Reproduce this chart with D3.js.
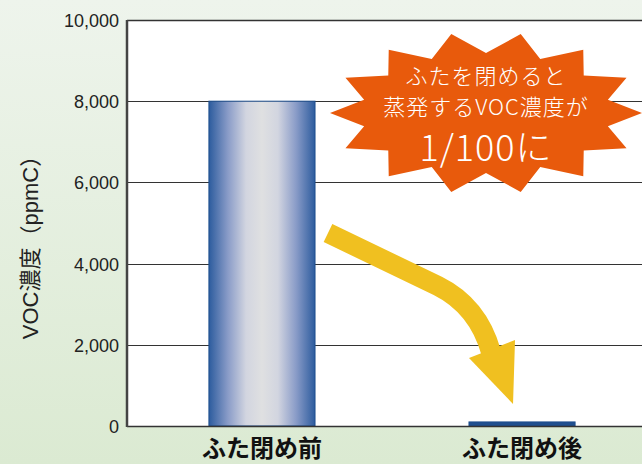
<!DOCTYPE html>
<html lang="ja">
<head>
<meta charset="utf-8">
<title>VOC</title>
<script src="https://d3js.org/d3.v7.min.js"></script>
<style>
  body { margin: 0; }
  .tick-label { font-family: "Liberation Sans", Arial, sans-serif; font-size: 18px; fill: #222; }
  .cat-label { font-family: "Noto Sans CJK JP", sans-serif; font-size: 24px; font-weight: bold; fill: #111; }
  .y-title { font-family: "Liberation Sans", "Noto Sans CJK JP", sans-serif; font-size: 22px; fill: #222; }
  .burst-text { font-family: "Noto Sans CJK JP", sans-serif; fill: #fff; font-weight: 300; }
</style>
</head>
<body>
<div id="chart"></div>
<script>
var width = 642, height = 464;

var categories = ["ふた閉め前", "ふた閉め後"];
var values = [8000, 100];
var tickValues = [0, 2000, 4000, 6000, 8000, 10000];
var yTitle = "VOC濃度（ppmC）";
var calloutLines = ["ふたを閉めると", "蒸発するVOC濃度が", "1/100に"];

var plotLeft = 127, plotTop = 20, plotBottom = 426, plotRight = 657;

var svg = d3.select("#chart").append("svg")
  .attr("width", width)
  .attr("height", height);

var defs = svg.append("defs");
var bg = defs.append("linearGradient").attr("id", "bg")
  .attr("x1", 0).attr("y1", 0).attr("x2", 0).attr("y2", 1);
bg.append("stop").attr("offset", "0%").attr("stop-color", "#eef4ec");
bg.append("stop").attr("offset", "100%").attr("stop-color", "#dbead2");

var barGrad = defs.append("linearGradient").attr("id", "barGrad")
  .attr("x1", 0).attr("y1", 0).attr("x2", 1).attr("y2", 0);
[["0%", "#2d5c9e"], ["18%", "#8a9cc8"], ["35%", "#d2d5e0"], ["50%", "#dfe0e1"],
 ["65%", "#d2d5e0"], ["82%", "#8a9cc8"], ["100%", "#2d5c9e"]].forEach(function(s) {
  barGrad.append("stop").attr("offset", s[0]).attr("stop-color", s[1]);
});

var y = d3.scaleLinear().domain([0, 10000]).range([plotBottom, plotTop]);
var x = d3.scaleBand().domain(categories).range([plotLeft, plotRight])
  .paddingInner(0.592).paddingOuter(0.315);

svg.append("rect").attr("width", width).attr("height", height).attr("fill", "url(#bg)");

svg.append("rect")
  .attr("x", plotLeft).attr("y", plotTop)
  .attr("width", width - plotLeft).attr("height", plotBottom - plotTop)
  .attr("fill", "#fff");

// grid lines
svg.selectAll("line.grid")
  .data(tickValues.slice(1))
  .enter().append("line")
  .attr("class", "grid")
  .attr("x1", plotLeft).attr("x2", width)
  .attr("y1", function(d) { return Math.round(y(d)) + 0.5; })
  .attr("y2", function(d) { return Math.round(y(d)) + 0.5; })
  .attr("stroke", "#333")
  .attr("stroke-width", function(d) { return d === 10000 ? 1.5 : 1; });

// bars
svg.selectAll("rect.bar")
  .data(values)
  .enter().append("rect")
  .attr("class", "bar")
  .attr("x", function(d, i) { return x(categories[i]); })
  .attr("y", function(d) { return y(d); })
  .attr("width", x.bandwidth())
  .attr("height", function(d) { return plotBottom - y(d); })
  .attr("fill", function(d, i) { return i === 0 ? "url(#barGrad)" : "#1f4f8f"; })
  .attr("stroke", "#1e4f8e")
  .attr("stroke-width", 1);

// axis lines
svg.append("line")
  .attr("x1", plotLeft).attr("x2", width)
  .attr("y1", plotBottom + 0.5).attr("y2", plotBottom + 0.5)
  .attr("stroke", "#333").attr("stroke-width", 1.5);
svg.append("line")
  .attr("x1", plotLeft).attr("x2", plotLeft)
  .attr("y1", plotTop).attr("y2", plotBottom + 1)
  .attr("stroke", "#444").attr("stroke-width", 2.5);

// y axis labels
var yAxis = d3.axisLeft(y).tickValues(tickValues).tickSize(0).tickPadding(8)
  .tickFormat(d3.format(","));
var ya = svg.append("g").attr("transform", "translate(" + plotLeft + ",0)").call(yAxis);
ya.select(".domain").remove();
ya.selectAll("text").attr("class", "tick-label").attr("dy", "0.36em");
ya.attr("font-family", null).attr("font-size", null);

// category labels
svg.selectAll("text.cat-label")
  .data(categories)
  .enter().append("text")
  .attr("class", "cat-label")
  .attr("x", function(d) { return x(d) + x.bandwidth() / 2; })
  .attr("y", 457)
  .attr("text-anchor", "middle")
  .text(function(d) { return d; });

// y title
svg.append("text")
  .attr("class", "y-title")
  .attr("transform", "translate(38,242) rotate(-90)")
  .attr("text-anchor", "middle")
  .text(yTitle);

// arrow
svg.append("path")
  .attr("d", "M328,233 L438,286 Q478,306 491,352")
  .attr("fill", "none")
  .attr("stroke", "#f0c020")
  .attr("stroke-width", 20);
svg.append("path")
  .attr("d", "M469,358 L515,340 L513,404 Z")
  .attr("fill", "#f0c020");

// starburst
var cx = 486, cy = 113, spikes = 14;
var pts = [];
for (var i = 0; i < spikes * 2; i++) {
  var a = Math.PI * i / spikes + Math.PI;
  var outer = i % 2 === 0;
  var rx = outer ? 156 : 125, ry = outer ? 81 : 60;
  pts.push([cx + rx * Math.cos(a), cy + ry * Math.sin(a)]);
}
svg.append("path")
  .attr("d", d3.line()(pts) + "Z")
  .attr("fill", "#e85a0c");

svg.append("text").attr("class", "burst-text")
  .attr("x", cx).attr("y", 84).attr("text-anchor", "middle")
  .attr("font-size", 22).attr("letter-spacing", 1).text(calloutLines[0]);
svg.append("text").attr("class", "burst-text")
  .attr("x", cx).attr("y", 115).attr("text-anchor", "middle")
  .attr("font-size", 22).attr("letter-spacing", 1).text(calloutLines[1]);
svg.append("text").attr("class", "burst-text")
  .attr("x", cx).attr("y", 161).attr("text-anchor", "middle")
  .attr("font-size", 36).attr("letter-spacing", 1).text(calloutLines[2]);
</script>
</body>
</html>
